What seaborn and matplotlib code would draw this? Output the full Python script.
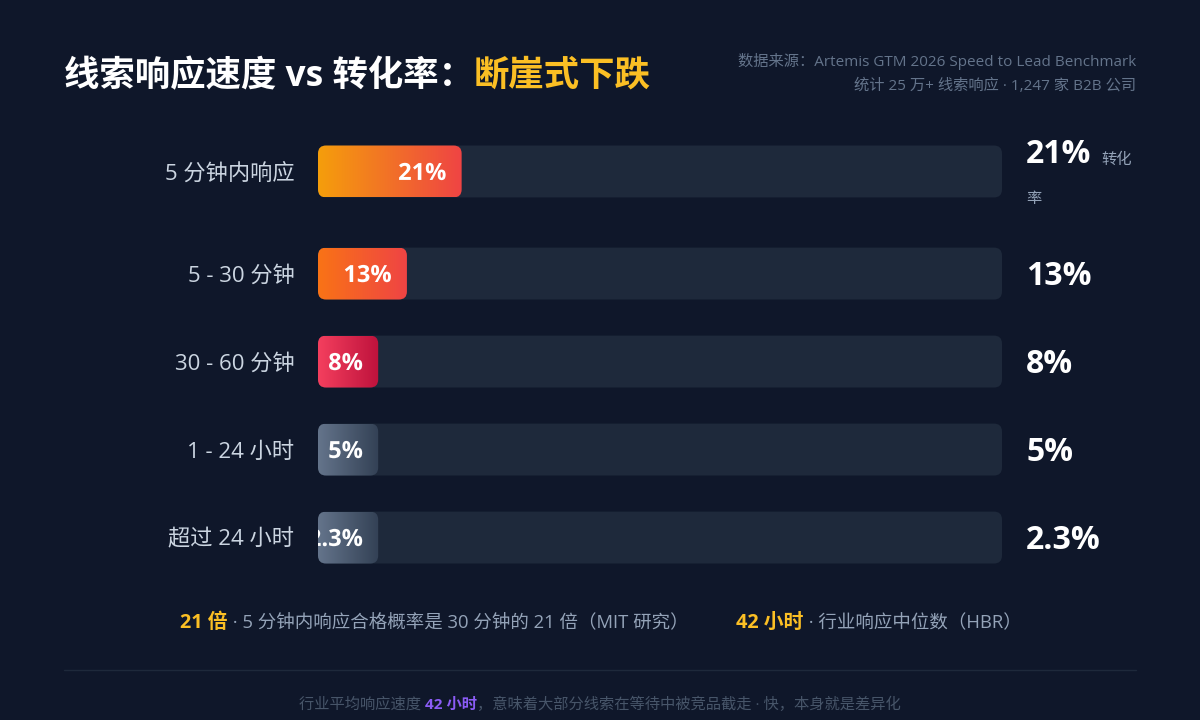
import numpy as np
import pandas as pd
import matplotlib
matplotlib.use("Agg")
import matplotlib.pyplot as plt
import matplotlib.transforms as mtransforms
from matplotlib.colors import LinearSegmentedColormap
from matplotlib.patches import FancyBboxPatch, PathPatch
from matplotlib.textpath import TextPath
from matplotlib.font_manager import FontProperties
from matplotlib.lines import Line2D
import seaborn as sns

# --- Daten ---
categories = ["5 分钟内响应", "5 - 30 分钟", "30 - 60 分钟", "1 - 24 小时", "超过 24 小时"]
conversion = [21, 13, 8, 5, 2.3]
value_labels = ["21%", "13%", "8%", "5%", "2.3%"]
unit_note = "转化率"

title_main = "线索响应速度 vs 转化率："
title_hl = "断崖式下跌"
source_lines = ["数据来源：Artemis GTM 2026 Speed to Lead Benchmark",
                "统计 25 万+ 线索响应 · 1,247 家 B2B 公司"]
stat_keys = ["21 倍", "42 小时"]
stat_texts = [" · 5 分钟内响应合格概率是 30 分钟的 21 倍（MIT 研究）", " · 行业响应中位数（HBR）"]
footer_a = "行业平均响应速度 "
footer_key = "42 小时"
footer_b = "，意味着大部分线索在等待中被竞品截走 · 快，本身就是差异化"

# --- Stil ---
BG = "#0f172a"
TRACK = "#1e293b"
LABEL = "#cbd5e1"
MUTED = "#64748b"
STAT = "#94a3b8"
FOOT = "#475569"
AMBER = "#fbbf24"
PURPLE = "#8b5cf6"
gradients = [("#f59e0b", "#ef4444"), ("#f97316", "#ef4444"), ("#f43f5e", "#be123c"),
             ("#64748b", "#334155"), ("#64748b", "#334155")]
MIN_W = 8.8          # minimale Balkenbreite in %
BAR_H = 0.59
RADIUS_PX = 8

sns.set_theme(style="white")
plt.rcParams["font.family"] = ["Open Sans", "Noto Sans CJK SC", "DejaVu Sans"]

W, H = 1200, 720
DPI = 100
fig = plt.figure(figsize=(12, 7.2), dpi=DPI, facecolor=BG)


def fx(px):
    return px / W


def fy(py):
    return 1 - py / H


ax = fig.add_axes([fx(318), fy(590), (1002 - 318) / W, (590 - 120) / H])
ax.set_facecolor("none")

pos = np.arange(len(categories)) + np.r_[0, np.full(len(categories) - 1, 0.16)]
df = pd.DataFrame({"pos": pos, "shown": np.maximum(conversion, MIN_W), "track": 100.0})

sns.barplot(data=df, x="track", y="pos", orient="y", native_scale=True, width=BAR_H,
            color=TRACK, saturation=1, ax=ax)
n_track = len(ax.patches)
sns.barplot(data=df, x="shown", y="pos", orient="y", native_scale=True, width=BAR_H,
            color="white", saturation=1, ax=ax)

ax.set_xlim(0, 100)
ax.set_ylim(-0.585 + 470 / 88, -0.585)
for s in ax.spines.values():
    s.set_visible(False)
ax.set_xticks([])
ax.set_xlabel("")
ax.set_ylabel("")
ax.set_yticks(pos, categories)
ax.tick_params(axis="y", length=0, pad=17, labelsize=16, labelcolor=LABEL)

# Pixel pro Einheit -> runde Ecken
px_x = 684 / 100
px_y = 88
r_x = RADIUS_PX / px_x
aspect = px_x / px_y

label_font = FontProperties(family=["Open Sans"], weight="bold")
label_px = 17 * DPI / 72

rects = list(ax.patches)
for i, rect in enumerate(rects):
    x, y, w, h = rect.get_x(), rect.get_y(), rect.get_width(), rect.get_height()
    rect.remove()
    idx = int(np.argmin(np.abs(pos - (y + h / 2))))
    is_track = i < n_track
    patch = FancyBboxPatch((x, y), w, h, boxstyle=f"round,pad=0,rounding_size={r_x}",
                           mutation_aspect=aspect,
                           facecolor=TRACK if is_track else "none",
                           edgecolor="none", zorder=1 if is_track else 2)
    ax.add_patch(patch)
    if is_track:
        continue
    cmap = LinearSegmentedColormap.from_list(f"g{idx}", gradients[idx])
    ax.imshow(np.linspace(0, 1, 256).reshape(1, -1), cmap=cmap, aspect="auto",
              extent=(x, x + w, y + h, y), interpolation="bicubic",
              clip_path=patch, zorder=2)
    # Beschriftung als Pfad, damit sie am Balken abgeschnitten wird
    tp = TextPath((0, 0), value_labels[idx], size=label_px, prop=label_font)
    ext = tp.get_extents()
    tr = (mtransforms.Affine2D().translate(-ext.x1 - 16, -(ext.y0 + ext.y1) / 2)
          + mtransforms.ScaledTranslation(x + w, y + h / 2, ax.transData))
    lab = PathPatch(tp, transform=tr, facecolor="white", edgecolor="none", zorder=3)
    ax.add_patch(lab)
    lab.set_clip_path(patch)

ax.set_xlim(0, 100)
ax.set_ylim(-0.585 + 470 / 88, -0.585)

# rechte Werte
ytr = ax.get_yaxis_transform()
for i, (p, lab) in enumerate(zip(pos, value_labels)):
    yy = p - 0.19 if i == 0 else p + 0.03
    vt = ax.text(1 + 24 / 684, yy, lab, transform=ytr, ha="left", va="center",
                 fontsize=23, fontweight="bold", color="white", clip_on=False)
    if i == 0:
        ax.annotate(unit_note[:2], xy=(1, 0), xycoords=vt, xytext=(10, 3),
                    textcoords="offset pixels", ha="left", va="bottom",
                    fontsize=11, color=STAT)
        ax.text(1 + 24 / 684, p + 0.32, unit_note[2:], transform=ytr, ha="left",
                va="center", fontsize=11, color=STAT, clip_on=False)

# Titel
t1 = fig.text(fx(64), fy(77), title_main, ha="left", va="center", fontsize=25.5,
              fontweight="bold", color="white")
ax.annotate(title_hl, xy=(1, 0.5), xycoords=t1, ha="left", va="center",
            fontsize=25.5, fontweight="bold", color=AMBER)

# Quelle
fig.text(fx(1136), fy(62), source_lines[0], ha="right", va="center", fontsize=11, color=MUTED)
fig.text(fx(1136), fy(86), source_lines[1], ha="right", va="center", fontsize=11, color=MUTED)

# Kennzahlen
for key, txt, x0 in zip(stat_keys, stat_texts, [180, 736]):
    k = fig.text(fx(x0), fy(623), key, ha="left", va="center", fontsize=14.3,
                 fontweight="bold", color=AMBER)
    ax.annotate(txt, xy=(1, 0.5), xycoords=k, ha="left", va="center",
                fontsize=13.3, color=STAT)

fig.add_artist(Line2D([fx(64), fx(1136)], [fy(670), fy(670)], transform=fig.transFigure,
                      color=TRACK, lw=1))

# Fußzeile, zentriert
f1 = fig.text(fx(303), fy(705), footer_a, ha="left", va="center", fontsize=11, color=FOOT)
f2 = ax.annotate(footer_key, xy=(1, 0.5), xycoords=f1, ha="left", va="center",
                 fontsize=11, fontweight="bold", color=PURPLE)
f3 = ax.annotate(footer_b, xy=(1, 0.5), xycoords=f2, ha="left", va="center",
                 fontsize=11, color=FOOT)
fig.canvas.draw()
r = fig.canvas.get_renderer()
x_left = f1.get_window_extent(r).x0
x_right = f3.get_window_extent(r).x1
shift = 600 - (x_left + x_right) / 2
f1.set_x(fx(303 + shift))

fig.savefig("out.png", dpi=DPI, facecolor=BG)
